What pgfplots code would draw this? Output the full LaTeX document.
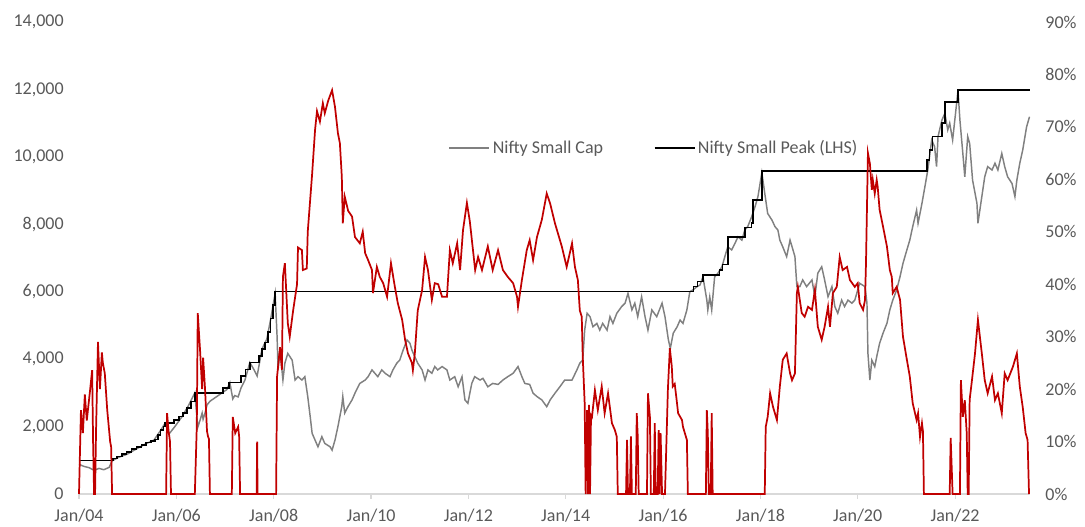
\documentclass[border=0pt]{standalone}
\usepackage{fontspec}
\setmainfont{Carlito}
\usepackage{pgfplots}
\pgfplotsset{compat=1.18}

\definecolor{idxgray}{HTML}{808080}
\definecolor{ddred}{HTML}{C00000}
\definecolor{lblgray}{HTML}{595959}
\definecolor{axgray}{HTML}{D9D9D9}

\pgfplotsset{
  base/.style={
    width=713.25pt, height=354pt, scale only axis,
    xmin=2004, xmax=2023.54,
    clip=false,
    tick label style={font=\fontsize{13.5}{16}\selectfont, text=lblgray},
    /pgf/number format/assume math mode=true,
  },
}

\begin{document}
\begin{tikzpicture}
% left axis: index and running peak
\begin{axis}[base,
  ymin=0, ymax=14000,
  ytick={0,2000,...,14000},
  scaled y ticks=false,
  yticklabel style={/pgf/number format/1000 sep={,}, xshift=-8pt},
  axis x line*=bottom, axis y line*=left,
  x axis line style={-, draw=axgray, line width=0.8pt},
  y axis line style={draw=none},
  ytick style={draw=none},
  xtick={2004,2006,...,2022},
  xticklabels={Jan/04,Jan/06,Jan/08,Jan/10,Jan/12,Jan/14,Jan/16,Jan/18,Jan/20,Jan/22},
  xtick align=outside, major tick length=3.75pt,
  xtick style={draw=axgray, line width=0.8pt},
  xticklabel style={yshift=-4pt},
  legend style={at={(0.605,0.733)}, anchor=center, draw=none, fill=none,
    font=\fontsize{13.5}{16}\selectfont, text=lblgray,
    /tikz/every even column/.append style={column sep=36pt}},
  legend columns=2,
  legend image code/.code={\draw[#1] (0pt,0pt) -- (30pt,0pt);},
]
\coordinate (sw) at (rel axis cs:0,0);
\coordinate (ne) at (rel axis cs:1,1);

\addplot[idxgray, line width=1.1pt] coordinates {
(2004.00,880)(2004.10,820)(2004.21,780)(2004.31,700)(2004.41,760)(2004.51,720)(2004.62,790)
(2004.68,980)(2004.80,1080)(2004.99,1180)(2005.17,1330)(2005.36,1480)(2005.54,1600)(2005.66,1850)
(2005.77,2100)(2005.85,1780)(2005.97,2000)(2006.12,2300)(2006.26,2650)(2006.38,3000)(2006.44,1980)
(2006.49,2200)(2006.53,2400)(2006.55,2220)(2006.59,2400)(2006.63,2640)(2006.69,2750)(2006.79,2850)
(2006.94,3000)(2007.04,3100)(2007.10,3300)(2007.16,2820)(2007.20,2920)(2007.27,2880)(2007.33,3150)
(2007.41,3380)(2007.51,3900)(2007.59,3700)(2007.66,3500)(2007.76,4300)(2007.86,4600)(2007.94,5200)
(2008.03,5950)(2008.07,4670)(2008.09,3680)(2008.13,4270)(2008.19,3380)(2008.23,3880)(2008.29,4170)
(2008.38,3970)(2008.44,3380)(2008.50,3480)(2008.58,3380)(2008.64,3480)(2008.70,2890)(2008.75,2300)
(2008.79,1800)(2008.85,1600)(2008.91,1400)(2008.99,1700)(2009.05,1500)(2009.16,1400)(2009.20,1300)
(2009.26,1600)(2009.32,2000)(2009.40,2600)(2009.42,2890)(2009.46,2400)(2009.53,2600)(2009.61,2790)
(2009.67,2990)(2009.77,3280)(2009.88,3380)(2009.94,3480)(2010.02,3680)(2010.08,3580)(2010.14,3480)
(2010.22,3680)(2010.29,3580)(2010.39,3480)(2010.45,3680)(2010.53,3880)(2010.59,3970)(2010.66,4270)
(2010.74,4570)(2010.80,4470)(2010.84,4270)(2010.90,4070)(2010.96,3880)(2011.05,3680)(2011.11,3380)
(2011.17,3680)(2011.25,3580)(2011.31,3780)(2011.37,3680)(2011.46,3780)(2011.56,3680)(2011.62,3380)
(2011.72,3480)(2011.79,3180)(2011.87,3480)(2011.93,2790)(2011.99,2690)(2012.07,3280)(2012.13,3480)
(2012.24,3380)(2012.30,3430)(2012.40,3180)(2012.50,3280)(2012.61,3250)(2012.71,3380)(2012.81,3480)
(2012.92,3580)(2013.02,3780)(2013.10,3480)(2013.16,3280)(2013.26,3250)(2013.33,2990)(2013.41,2890)
(2013.51,2790)(2013.61,2590)(2013.68,2790)(2013.78,2990)(2013.88,3180)(2013.98,3380)(2014.13,3380)
(2014.23,3680)(2014.29,3880)(2014.35,3970)(2014.39,4860)(2014.44,5360)(2014.50,5260)(2014.56,4960)
(2014.64,5060)(2014.70,4860)(2014.76,5060)(2014.85,4860)(2014.91,5260)(2014.97,5060)(2015.05,5360)
(2015.15,5560)(2015.22,5660)(2015.28,5950)(2015.36,5460)(2015.42,5660)(2015.48,5260)(2015.56,5850)
(2015.63,5260)(2015.69,4860)(2015.77,5460)(2015.87,5260)(2015.98,5660)(2016.04,5260)(2016.11,4570)
(2016.15,4320)(2016.21,4770)(2016.29,4960)(2016.35,5160)(2016.41,5060)(2016.49,5460)(2016.55,6000)
(2016.61,6050)(2016.70,6150)(2016.76,6200)(2016.82,6440)(2016.90,5750)(2016.92,5460)(2016.96,5850)
(2017.00,5460)(2017.06,6440)(2017.13,6550)(2017.21,6740)(2017.27,7040)(2017.33,7330)(2017.41,7240)
(2017.48,7440)(2017.54,7630)(2017.62,7530)(2017.68,7830)(2017.74,7930)(2017.82,8220)(2017.89,8520)
(2017.95,8820)(2018.03,9530)(2018.09,8920)(2018.15,8320)(2018.24,8120)(2018.30,7930)(2018.36,7830)
(2018.40,7530)(2018.46,7330)(2018.54,7040)(2018.61,7530)(2018.67,7240)(2018.71,7040)(2018.75,6150)
(2018.81,6150)(2018.87,6350)(2018.95,6150)(2019.06,6350)(2019.12,5850)(2019.18,6550)(2019.26,6740)
(2019.32,6350)(2019.39,5850)(2019.47,6150)(2019.53,5560)(2019.59,5360)(2019.67,5750)(2019.73,5560)
(2019.80,5750)(2019.88,5660)(2019.94,5750)(2020.04,6250)(2020.15,6150)(2020.19,5660)(2020.21,4170)
(2020.25,3380)(2020.29,3970)(2020.35,3780)(2020.39,4070)(2020.45,4470)(2020.52,4770)(2020.60,5060)
(2020.66,5460)(2020.72,5750)(2020.80,6050)(2020.87,6450)(2020.93,6840)(2021.01,7240)(2021.07,7530)
(2021.13,7930)(2021.21,8420)(2021.24,8030)(2021.32,8620)(2021.38,9110)(2021.44,9610)(2021.52,10500)
(2021.58,10300)(2021.62,9710)(2021.65,10600)(2021.73,11090)(2021.79,11290)(2021.85,10800)(2021.89,11000)
(2021.95,10500)(2022.04,11690)(2022.06,11980)(2022.10,11090)(2022.16,10100)(2022.20,9410)(2022.26,10600)
(2022.30,10400)(2022.36,9310)(2022.45,8620)(2022.47,8030)(2022.55,8820)(2022.61,9410)(2022.67,9710)
(2022.76,9610)(2022.82,9810)(2022.88,9610)(2022.96,10100)(2023.02,9710)(2023.08,9410)(2023.17,9210)
(2023.23,8820)(2023.27,9310)(2023.33,9810)(2023.39,10200)(2023.47,10890)(2023.53,11190)
};
\addlegendentry{Nifty Small Cap}

\addplot[black, line width=1.1pt, const plot] coordinates {
(2004.00,1000)(2004.70,1050)(2004.78,1120)(2004.88,1180)(2004.98,1250)(2005.08,1330)(2005.18,1400)
(2005.28,1460)(2005.38,1520)(2005.48,1570)(2005.56,1620)(2005.62,1750)(2005.68,1900)(2005.74,2000)
(2005.77,2100)(2005.95,2200)(2006.05,2300)(2006.14,2400)(2006.22,2550)(2006.30,2750)(2006.38,3000)
(2006.96,3150)(2007.08,3300)(2007.33,3500)(2007.42,3700)(2007.51,3900)(2007.70,4100)(2007.76,4300)
(2007.82,4500)(2007.88,4800)(2007.94,5200)(2007.99,5600)(2008.03,6000)(2016.55,6000)(2016.63,6150)
(2016.71,6300)(2016.82,6500)(2017.16,6650)(2017.22,6800)(2017.33,7620)(2017.68,7900)(2017.82,8040)
(2017.85,8720)(2018.03,9580)(2021.42,9900)(2021.48,10200)(2021.54,10600)(2021.73,11000)(2021.79,11630)
(2022.06,11980)(2023.54,11980)
};
\addlegendentry{Nifty Small Peak (LHS)}
\end{axis}

% right axis: drawdown
\begin{axis}[base,
  ymin=0, ymax=90,
  ytick={0,10,...,90},
  yticklabel={\pgfmathprintnumber{\tick}\%},
  yticklabel style={xshift=8pt},
  axis y line*=right, axis x line=none,
  y axis line style={draw=none},
  ytick style={draw=none},
]
\addplot[ddred, line width=1.3pt] coordinates {
(2004.00,0)(2004.04,16)(2004.08,11.6)(2004.12,19)(2004.16,14)(2004.23,20)(2004.27,23.6)(2004.29,9.7)
(2004.31,0)(2004.33,0)(2004.35,12)(2004.39,29)(2004.43,20)(2004.47,27)(2004.49,25)(2004.53,23)
(2004.58,16)(2004.60,14)(2004.64,10)(2004.66,9)(2004.68,0)
(2005.79,0)(2005.81,15.4)(2005.84,12)(2005.87,10)(2005.89,0)
(2006.38,0)(2006.42,12.8)(2006.44,34.5)(2006.49,27)(2006.53,20)(2006.55,26)(2006.59,20)(2006.63,12)
(2006.65,11)(2006.67,10.5)(2006.69,0)
(2007.14,0)(2007.16,14.7)(2007.21,11.6)(2007.27,12.8)(2007.29,11)(2007.31,0)
(2007.65,0)(2007.66,10)(2007.67,0)
(2008.05,0)(2008.07,22.4)(2008.13,28)(2008.17,23.7)(2008.19,41.4)(2008.23,44)(2008.27,36.4)(2008.29,32.6)
(2008.33,30)(2008.40,35)(2008.48,40)(2008.50,47)(2008.58,46.5)(2008.60,42.7)(2008.68,43)(2008.70,50)
(2008.79,61)(2008.85,69.4)(2008.89,73)(2008.95,71)(2009.01,74.5)(2009.05,72.6)(2009.12,75)(2009.20,77)
(2009.26,73.8)(2009.32,68.8)(2009.36,66.9)(2009.40,60.5)(2009.42,51.6)(2009.46,56.7)(2009.53,54)
(2009.61,52.9)(2009.67,49)(2009.77,47.8)(2009.83,50)(2009.88,45.9)(2009.94,44.6)(2010.02,42.7)
(2010.04,38.3)(2010.12,43.3)(2010.18,41.4)(2010.25,40.2)(2010.33,37.6)(2010.41,44)(2010.49,39.5)
(2010.55,36.4)(2010.64,33.2)(2010.70,29.4)(2010.76,26.8)(2010.84,25)(2010.86,23.6)(2010.90,26.8)
(2010.96,35)(2011.05,38.9)(2011.11,45.2)(2011.17,42.7)(2011.25,37)(2011.31,40.2)(2011.38,40)
(2011.46,37.6)(2011.56,37.6)(2011.62,46.5)(2011.68,44)(2011.77,47.8)(2011.83,42.7)(2011.89,50.3)
(2011.97,55.5)(2012.03,52)(2012.14,42.7)(2012.20,45.2)(2012.28,42.7)(2012.40,47.2)(2012.50,42.7)
(2012.61,46.5)(2012.71,42.7)(2012.81,41.4)(2012.92,40.2)(2013.00,37.6)(2013.02,35.7)(2013.10,40.8)
(2013.20,46.5)(2013.26,48.4)(2013.33,44.6)(2013.41,49)(2013.51,52.3)(2013.61,57.3)(2013.68,55.4)
(2013.78,51.6)(2013.92,47.2)(2014.02,43.3)(2014.13,47.8)(2014.19,43.3)(2014.25,40.8)(2014.29,35)
(2014.33,33.8)(2014.35,26.2)(2014.39,17.3)(2014.41,0)(2014.44,16)(2014.46,0)(2014.48,17)(2014.50,0)
(2014.52,15)(2014.54,14.7)(2014.60,19.8)(2014.66,16)(2014.74,20.5)(2014.80,15.4)(2014.87,19.2)
(2014.95,13.5)(2015.01,12.2)(2015.05,10.9)(2015.07,0)(2015.24,0)(2015.26,10.3)(2015.28,0)(2015.32,0)
(2015.34,11)(2015.36,0)(2015.44,0)(2015.46,15.4)(2015.48,11)(2015.50,0)(2015.67,0)(2015.69,19.2)
(2015.73,14.7)(2015.75,0)(2015.81,0)(2015.83,13.5)(2015.85,0)(2015.89,0)(2015.91,12.2)(2015.93,0)
(2015.95,11.6)(2015.98,0)(2016.04,0)(2016.10,20)(2016.14,27.8)(2016.18,24.3)(2016.20,20.5)(2016.24,21)
(2016.28,17.9)(2016.31,15.4)(2016.39,14.1)(2016.41,12.8)(2016.49,10.3)(2016.51,0)(2016.88,0)
(2016.90,16)(2016.92,11.6)(2016.94,0)(2016.98,0)(2017.00,15.4)(2017.02,0)(2018.09,0)(2018.11,12.8)
(2018.15,14.7)(2018.20,19.2)(2018.26,16.6)(2018.34,14.1)(2018.40,20.5)(2018.46,25.6)(2018.54,26.8)
(2018.61,23)(2018.65,21.7)(2018.71,23)(2018.75,38.3)(2018.77,39.5)(2018.85,34.5)(2018.91,33.8)
(2018.98,35.7)(2019.06,35.1)(2019.12,38.9)(2019.18,31.9)(2019.26,29.4)(2019.32,31.9)(2019.39,35.7)
(2019.43,31.9)(2019.49,38.3)(2019.57,39.5)(2019.63,45.2)(2019.69,42.7)(2019.78,43.3)(2019.84,40.8)
(2019.94,39.5)(2020.00,40.2)(2020.04,36.4)(2020.11,35.1)(2020.15,37)(2020.17,44)(2020.21,65)
(2020.25,63)(2020.29,58)(2020.31,59.9)(2020.35,57.3)(2020.39,59.9)(2020.41,58.6)(2020.45,54.2)
(2020.52,51)(2020.60,47.2)(2020.66,42.7)(2020.70,41.4)(2020.72,38.3)(2020.80,39.5)(2020.87,37)
(2020.93,30)(2021.01,25.6)(2021.07,22.4)(2021.13,17.3)(2021.21,14.1)(2021.24,15.4)(2021.28,10.9)
(2021.32,13.5)(2021.34,12)(2021.36,0)(2021.89,0)(2021.91,10.7)(2021.95,0)(2022.10,0)(2022.12,21.7)
(2022.16,14.7)(2022.20,17.9)(2022.24,11.6)(2022.26,0)(2022.28,0)(2022.30,18)(2022.34,21.1)
(2022.41,26.8)(2022.47,33.2)(2022.55,26.8)(2022.61,21.7)(2022.67,19.2)(2022.76,22.4)(2022.82,17.9)
(2022.88,19.2)(2022.96,15.4)(2023.02,23)(2023.08,21.7)(2023.19,24.3)(2023.27,26.8)(2023.33,20.5)
(2023.39,16.6)(2023.45,11.6)(2023.49,10.3)(2023.52,0)
};
\end{axis}

\pgfresetboundingbox
\path ([shift={(-59.25pt,-24.75pt)}]sw) rectangle ([shift={(41.25pt,16.5pt)}]ne);
\end{tikzpicture}
\end{document}
